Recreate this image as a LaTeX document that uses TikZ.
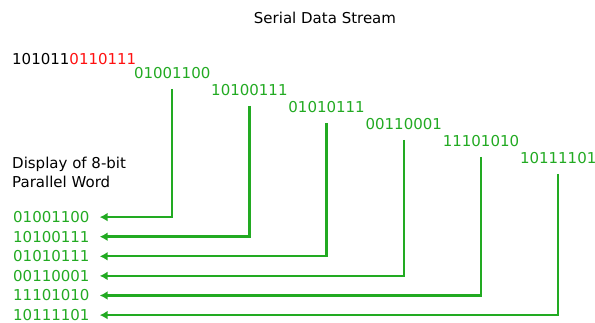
\documentclass[tikz,border=0pt]{standalone}
\usepackage{fontspec}
\setmainfont{DejaVu Sans}
\usepackage{tikz}
\usetikzlibrary{arrows.meta}
\usepackage{xcolor}
\definecolor{WordGreen}{HTML}{22AA22}
\definecolor{BitRed}{HTML}{FF1010}

\begin{document}
\begin{tikzpicture}[x=1pt,y=-1pt,
    label/.style={inner sep=0pt,font=\fontsize{15}{19}\selectfont},
    word/.style={label,text=WordGreen},
    wire/.style={WordGreen,line width=2.4pt,
        shorten <=10pt,shorten >=10pt,-{Latex[length=8pt,width=9pt]}}]
    \useasboundingbox (0,0) rectangle (595,323);

    \node[label] (title) at (325,18) {Serial Data Stream};
    \node[label,anchor=west] (stream) at (12,59)
        {101011\textcolor{BitRed}{0110111}};
    \node[label,anchor=north west,align=left] (display) at (12,157)
        {Display of 8-bit\\Parallel Word};

    % words leaving the stream, and the same words in parallel
    \foreach \word [count=\i] in
        {01001100,10100111,01010111,00110001,11101010,10111101}{
        \node[word] (w\i) at ({95+77.2*\i},{56+17*\i}) {\word};
        \node[word,anchor=west] (p\i) at (13,{197.5+19.6*\i}) {\word};
        \draw[wire] (w\i) |- (p\i);
    }
\end{tikzpicture}
\end{document}
